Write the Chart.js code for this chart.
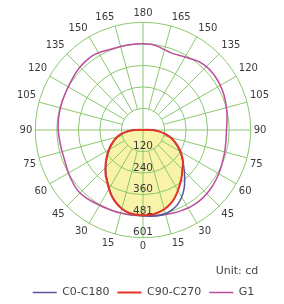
<!DOCTYPE html>
<html>
<head>
<meta charset="utf-8">
<script src="https://cdn.jsdelivr.net/npm/chart.js@4/dist/chart.umd.min.js"></script>
<style>
  html, body { margin: 0; padding: 0; background: #fff; }
  #wrap { width: 284px; height: 304px; position: relative; }
</style>
</head>
<body>
<div id="wrap"><canvas id="polar"></canvas></div>
<script>
// angle labels every 5 deg, clockwise starting at the bottom (0 = nadir)
const angleLabels = [
  '0', '', '', '15', '', '', '30', '', '', '45', '', '', '60', '', '', '75', '', '',
  '90', '', '', '105', '', '', '120', '', '', '135', '', '', '150', '', '', '165', '', '',
  '180', '', '', '165', '', '', '150', '', '', '135', '', '', '120', '', '', '105', '', '',
  '90', '', '', '75', '', '', '60', '', '', '45', '', '', '30', '', '', '15', '', ''
];

const ringLabels = ['120', '240', '360', '481', '601'];
const maxCd = 601;

// left half: 0..180, right half: 175..5
const c0c180 = [
  478, 476, 469, 455, 434, 408, 377, 347, 322, 294, 267, 241, 217, 193, 170, 147, 118, 83,
  48, 14, 0, 0, 0, 0, 0, 0, 0, 0, 0, 0, 0, 0, 0, 0, 0, 0,
  0, 0, 0, 0, 0, 0, 0, 0, 0, 0, 0, 0, 0, 0, 0, 0, 0, 14,
  50, 88, 124, 156, 184, 210, 238, 265, 294, 326, 362, 400, 432, 458, 474, 484, 486, 483
];

const c90c270 = [
  476, 474, 468, 455, 435, 410, 380, 350, 325, 297, 270, 244, 220, 196, 173, 150, 120, 85,
  50, 15, 0, 0, 0, 0, 0, 0, 0, 0, 0, 0, 0, 0, 0, 0, 0, 0,
  0, 0, 0, 0, 0, 0, 0, 0, 0, 0, 0, 0, 0, 0, 0, 0, 0, 15,
  52, 90, 126, 160, 188, 215, 242, 268, 292, 310, 337, 362, 390, 418, 441, 458, 469, 475
];

const g1 = [
  478, 478, 479, 480, 481, 482, 485, 489, 494, 497, 494, 487, 480, 473, 468, 467, 468, 470,
  473, 475, 476, 477, 478, 479, 482, 486, 492, 497, 500, 502, 497, 490, 484, 482, 482, 482,
  482, 480, 474, 464, 458, 462, 470, 482, 494, 500, 502, 501, 498, 494, 488, 482, 476, 470,
  466, 466, 468, 472, 476, 482, 488, 494, 499, 503, 505, 505, 503, 498, 493, 488, 484, 480
];

const gridGreen = '#8cc86e';
const textGrey = '#3a3a3a';
const fontFamily = '"DejaVu Sans", Verdana, sans-serif';
const fullSpokes = ['0', '90', '180'];

// ring values written upright below the centre (the built-in ones turn with startAngle)
const ringLabelPlugin = {
  id: 'ringLabels',
  beforeDatasetsDraw(chart) {
    const scale = chart.scales.r;
    const ctx = chart.ctx;
    ctx.save();
    ctx.font = '10.5px ' + fontFamily;
    ctx.fillStyle = textGrey;
    ctx.textAlign = 'center';
    ctx.textBaseline = 'middle';
    scale.ticks.forEach((tick, i) => {
      if (i === 0) return;
      const dist = scale.getDistanceFromCenterForValue(tick.value);
      ctx.fillText(ringLabels[i - 1], scale.xCenter, scale.yCenter + dist - 5);
    });
    ctx.restore();
  }
};

// spokes start at the first ring, except the 0/90/180 axes
function spokeDash(ctx) {
  const label = angleLabels[ctx.index];
  const scale = ctx.chart && ctx.chart.scales.r;
  if (!label || fullSpokes.includes(label) || !scale || scale.ticks.length < 2) return [];
  const inner = scale.getDistanceFromCenterForValue(scale.ticks[1].value);
  return [0, inner, 400, 0];
}

new Chart(document.getElementById('polar'), {
  type: 'radar',
  data: {
    labels: angleLabels,
    datasets: [
      {
        label: 'C0-C180',
        data: c0c180,
        borderColor: '#55569c',
        borderWidth: 1.5,
        fill: false,
        order: 1
      },
      {
        label: 'C90-C270',
        data: c90c270,
        borderColor: '#e53427',
        backgroundColor: '#f8f3a8',
        borderWidth: 2,
        fill: 'origin',
        order: 0
      },
      {
        label: 'G1',
        data: g1,
        borderColor: '#bd4c9e',
        borderWidth: 1.5,
        fill: false,
        order: 2
      }
    ]
  },
  options: {
    responsive: true,
    maintainAspectRatio: false,
    animation: false,
    layout: { padding: { top: 4, left: 17, right: 14, bottom: -4 } },
    elements: {
      point: { radius: 0, hoverRadius: 0 },
      line: { tension: 0.3 }
    },
    scales: {
      r: {
        min: 0,
        max: maxCd,
        startAngle: 180,
        ticks: { count: 6, display: false },
        grid: { circular: true, color: gridGreen, lineWidth: 1 },
        angleLines: {
          color: gridGreen,
          lineWidth: ctx => angleLabels[ctx.index] ? 1 : 0,
          borderDash: spokeDash
        },
        pointLabels: {
          padding: 3,
          color: textGrey,
          font: { family: fontFamily, size: 10 }
        }
      }
    },
    plugins: {
      filler: { drawTime: 'beforeDraw' },
      tooltip: { enabled: false },
      legend: {
        position: 'bottom',
        title: {
          display: true,
          text: 'Unit: cd',
          position: 'end',
          color: '#444',
          font: { family: fontFamily, size: 11 },
          padding: { top: 9, bottom: 0 }
        },
        labels: {
          usePointStyle: true,
          pointStyle: 'line',
          pointStyleWidth: 24,
          color: '#444',
          font: { family: fontFamily, size: 11 },
          padding: 8,
          sort: (a, b) => a.datasetIndex - b.datasetIndex
        }
      }
    }
  },
  plugins: [ringLabelPlugin]
});
</script>
</body>
</html>
